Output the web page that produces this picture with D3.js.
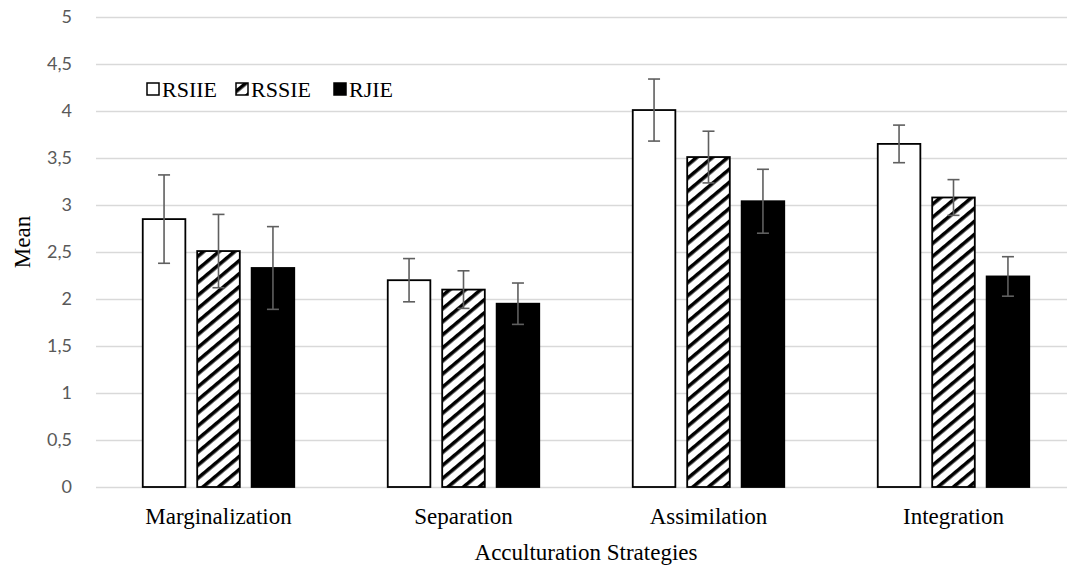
<!DOCTYPE html>
<html>
<head>
<meta charset="utf-8">
<script src="https://cdn.jsdelivr.net/npm/d3@7"></script>
<style>
  html, body { margin: 0; padding: 0; background: #fff; }
  svg { display: block; }
</style>
</head>
<body>
<svg id="chart" width="1067" height="570"></svg>
<script>
const categories = ["Marginalization", "Separation", "Assimilation", "Integration"];
const seriesNames = ["RSIIE", "RSSIE", "RJIE"];
const rsiie = [2.85, 2.20, 4.01, 3.65];
const rssie = [2.51, 2.10, 3.51, 3.08];
const rjie  = [2.33, 1.95, 3.04, 2.24];
const rsiieErr = [0.47, 0.23, 0.33, 0.20];
const rssieErr = [0.39, 0.20, 0.275, 0.19];
const rjieErr  = [0.44, 0.22, 0.34, 0.21];
const yTicks = [0, 0.5, 1, 1.5, 2, 2.5, 3, 3.5, 4, 4.5, 5];
const yTickLabels = ["0", "0,5", "1", "1,5", "2", "2,5", "3", "3,5", "4", "4,5", "5"];

const values = [rsiie, rssie, rjie];
const errors = [rsiieErr, rssieErr, rjieErr];

const svg = d3.select("#chart");
const mLeft = 96, mRight = 1076, mTop = 17, mBottom = 487;

const x0 = d3.scaleBand().domain(categories).range([mLeft, mRight]).paddingInner(0).paddingOuter(0);
const x1 = d3.scaleBand().domain(seriesNames).range([46, 245 - 46]).paddingInner(0.19).paddingOuter(0);
const y = d3.scaleLinear().domain([0, 5]).range([mBottom, mTop]);

// pattern
const defs = svg.append("defs");
const pat = defs.append("pattern")
  .attr("id", "hatch")
  .attr("patternUnits", "userSpaceOnUse")
  .attr("width", 10).attr("height", 10)
  .attr("patternTransform", "rotate(-40)");
pat.append("rect").attr("width", 10).attr("height", 10).attr("fill", "#fff");
pat.append("rect").attr("x", 0).attr("y", 0).attr("width", 10).attr("height", 3.6).attr("fill", "#000");

const fills = ["#fff", "url(#hatch)", "#000"];

// gridlines
const yAxis = d3.axisLeft(y).tickValues(yTicks)
  .tickSize(-(1067 - mLeft))
  .tickFormat((d, i) => yTickLabels[i]);
const ga = svg.append("g").attr("transform", `translate(${mLeft},0)`).call(yAxis);
ga.select(".domain").remove();
ga.selectAll(".tick line").attr("stroke", "#d9d9d9").attr("stroke-width", 1.5);
ga.selectAll(".tick text")
  .attr("x", -24)
  .attr("fill", "#595959")
  .style("font-family", "Lato, 'Open Sans', sans-serif")
  .style("font-size", "18px");

// bars
const groups = svg.append("g").selectAll("g")
  .data(categories)
  .join("g")
  .attr("transform", d => `translate(${x0(d)},0)`);

groups.each(function(cat, ci) {
  const g = d3.select(this);
  seriesNames.forEach((s, si) => {
    const v = values[si][ci];
    const bx = x1(s);
    const bw = x1.bandwidth();
    g.append("rect")
      .attr("x", bx + 0.75)
      .attr("y", y(v))
      .attr("width", bw - 1.5)
      .attr("height", y(0) - y(v))
      .attr("fill", fills[si])
      .attr("stroke", "#000")
      .attr("stroke-width", 1.8);
  });
});

// error bars
groups.each(function(cat, ci) {
  const g = d3.select(this);
  seriesNames.forEach((s, si) => {
    const v = values[si][ci], e = errors[si][ci];
    const cx = x1(s) + x1.bandwidth() / 2;
    const hi = y(v + e), lo = y(v - e);
    g.append("line").attr("x1", cx).attr("x2", cx).attr("y1", hi).attr("y2", lo)
      .attr("stroke", "#5f5f5f").attr("stroke-width", 1.6);
    g.append("line").attr("x1", cx - 6).attr("x2", cx + 6).attr("y1", hi).attr("y2", hi)
      .attr("stroke", "#5f5f5f").attr("stroke-width", 1.6);
    g.append("line").attr("x1", cx - 6).attr("x2", cx + 6).attr("y1", lo).attr("y2", lo)
      .attr("stroke", "#5f5f5f").attr("stroke-width", 1.6);
  });
});

// category labels
svg.append("g").selectAll("text")
  .data(categories)
  .join("text")
  .attr("x", d => x0(d) + x0.bandwidth() / 2)
  .attr("y", 524)
  .attr("text-anchor", "middle")
  .style("font-family", "'Liberation Serif', 'Times New Roman', serif")
  .style("font-size", "23px")
  .attr("fill", "#000")
  .text(d => d);

// axis titles
svg.append("text")
  .attr("x", (mLeft + mRight) / 2)
  .attr("y", 560)
  .attr("text-anchor", "middle")
  .style("font-family", "'Liberation Serif', 'Times New Roman', serif")
  .style("font-size", "23px")
  .text("Acculturation Strategies");

svg.append("text")
  .attr("transform", `translate(30,${(mTop + mBottom) / 2 - 10}) rotate(-90)`)
  .attr("text-anchor", "middle")
  .style("font-family", "'Liberation Serif', 'Times New Roman', serif")
  .style("font-size", "23px")
  .text("Mean");

// legend
const legendX = [147, 236, 334];
const lg = svg.append("g");
seriesNames.forEach((s, i) => {
  lg.append("rect")
    .attr("x", legendX[i]).attr("y", 83)
    .attr("width", 12).attr("height", 12)
    .attr("fill", fills[i]).attr("stroke", "#000").attr("stroke-width", 1.5);
  lg.append("text")
    .attr("x", legendX[i] + 15).attr("y", 97)
    .style("font-family", "'Liberation Serif', 'Times New Roman', serif")
    .style("font-size", "22px")
    .text(s);
});
</script>
</body>
</html>
